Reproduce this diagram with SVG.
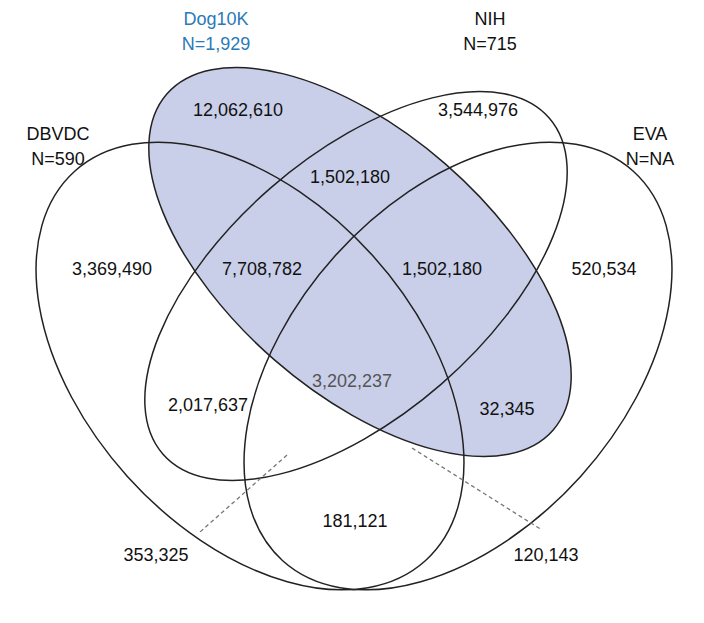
<svg xmlns="http://www.w3.org/2000/svg" width="704" height="623" viewBox="0 0 704 623">
<style>
.e{fill:none;stroke:#222;stroke-width:1.5}
text{font-family:"Liberation Sans",Arial,sans-serif;font-size:18px;fill:#111;text-anchor:middle}
.d{stroke:#777;stroke-width:1.3;stroke-dasharray:4 3;fill:none}
</style>
<rect width="704" height="623" fill="#fff"/>
<g id="fill"><ellipse cx="360" cy="262" rx="256" ry="130" transform="rotate(41 360 262)" fill="#c9cfe9"/></g>
<g id="dbvdc"><ellipse class="e" cx="250" cy="366" rx="262" ry="165" transform="rotate(48 250 366)"/><text x="58" y="140">DBVDC</text><text x="58" y="165">N=590</text></g>
<g id="eva"><ellipse class="e" cx="458" cy="366" rx="262" ry="165" transform="rotate(-48 458 366)"/><text x="650" y="140">EVA</text><text x="650" y="165">N=NA</text></g>
<g id="dog10k"><ellipse class="e" cx="360" cy="262" rx="256" ry="130" transform="rotate(41 360 262)"/><text x="216" y="25" style="fill:#2a7ab8">Dog10K</text><text x="216" y="50" style="fill:#2a7ab8">N=1,929</text></g>
<g id="nih"><ellipse class="e" cx="356" cy="286" rx="256" ry="130" transform="rotate(-41 356 286)"/><text x="490" y="25">NIH</text><text x="490" y="50">N=715</text></g>
<g id="connectors"><path class="d" d="M287 455L200 532"/><path class="d" d="M412 448L542 530"/></g>
<g id="values">
<text x="238" y="116">12,062,610</text><text x="478" y="116">3,544,976</text>
<text x="350" y="183">1,502,180</text>
<text x="112" y="275">3,369,490</text><text x="262" y="275">7,708,782</text><text x="442" y="275">1,502,180</text><text x="604" y="275">520,534</text>
<text x="352" y="387" style="fill:#555">3,202,237</text>
<text x="208" y="411">2,017,637</text><text x="507" y="415">32,345</text>
<text x="355" y="527">181,121</text><text x="156" y="561">353,325</text><text x="546" y="561">120,143</text>
</g>
</svg>
